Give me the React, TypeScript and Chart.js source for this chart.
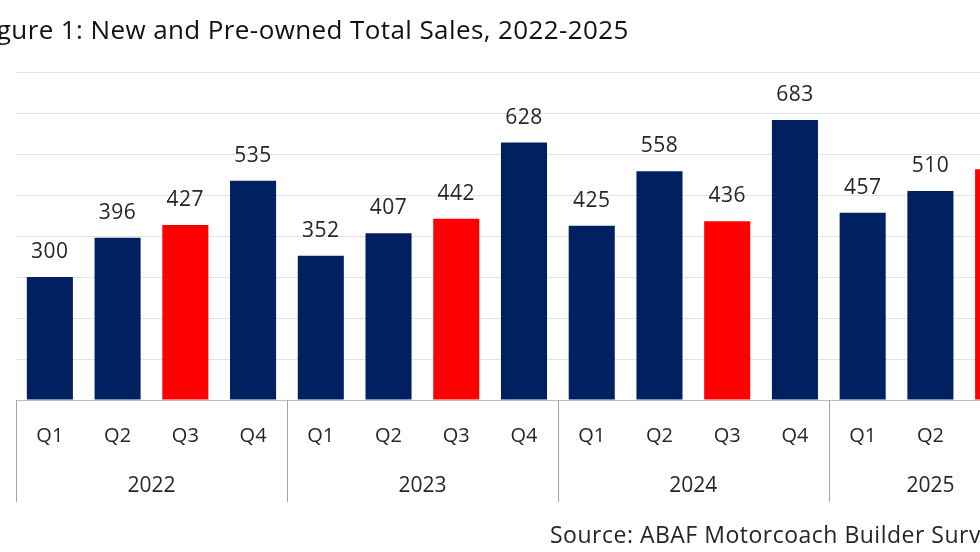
import React, { useEffect, useRef } from "react";
import { Chart, registerables } from "chart.js";

Chart.register(...registerables);

const quarters = ["Q1", "Q2", "Q3", "Q4", "Q1", "Q2", "Q3", "Q4", "Q1", "Q2", "Q3", "Q4", "Q1", "Q2", "Q3"];
const years = ["2022", "2023", "2024", "2025"];
const quartersPerYear = [4, 4, 4, 3];
const sales = [300, 396, 427, 535, 352, 407, 442, 628, 425, 558, 436, 683, 457, 510, 563];
const highlightQuarter = "Q3";
const titleText = "Figure 1: New and Pre-owned Total Sales, 2022-2025";
const sourceText = "Source: ABAF Motorcoach Builder Survey";

const FONT = "'Open Sans', sans-serif";
const NAVY = "#002060";
const RED = "#FF0000";
const TEXT = "#262626";
const OFFSET_X = 40;
const CANVAS_W = 1110;
const CANVAS_H = 552;

export default function App() {
  const ref = useRef<HTMLCanvasElement>(null);

  useEffect(() => {
    if (!ref.current) return;

    const overlay = {
      id: "overlay",
      afterDraw(chart: any) {
        const { ctx, chartArea, scales } = chart;
        const x = scales.x;
        const half = (x.getPixelForValue(1) - x.getPixelForValue(0)) / 2;
        const bottom = chartArea.bottom;
        ctx.save();

        // year group dividers and labels
        ctx.strokeStyle = "#a6a6a6";
        ctx.lineWidth = 1;
        ctx.fillStyle = TEXT;
        ctx.font = `21px ${FONT}`;
        ctx.textAlign = "center";
        ctx.textBaseline = "middle";
        let idx = 0;
        years.forEach((yr, i) => {
          const start = x.getPixelForValue(idx) - half;
          const end = x.getPixelForValue(idx + quartersPerYear[i] - 1) + half;
          ctx.beginPath();
          ctx.moveTo(Math.round(start) + 0.5, bottom);
          ctx.lineTo(Math.round(start) + 0.5, bottom + 102);
          ctx.stroke();
          if (i === years.length - 1) {
            ctx.beginPath();
            ctx.moveTo(Math.round(end) - 0.5, bottom);
            ctx.lineTo(Math.round(end) - 0.5, bottom + 102);
            ctx.stroke();
          }
          ctx.fillText(yr, (start + end) / 2, bottom + 86);
          idx += quartersPerYear[i];
        });

        // value labels
        ctx.font = `21px ${FONT}`;
        (ctx as any).letterSpacing = "0.5px";
        const meta = chart.getDatasetMeta(0);
        meta.data.forEach((bar: any, i: number) => {
          ctx.fillText(String(sales[i]), bar.x, bar.y - 25);
        });

        // title
        ctx.fillStyle = "#111111";
        ctx.textAlign = "left";
        ctx.textBaseline = "alphabetic";
        ctx.font = `26px ${FONT}`;
        (ctx as any).letterSpacing = "0.4px";
        ctx.fillText(titleText, OFFSET_X - 24, 39);

        // source
        ctx.fillStyle = TEXT;
        ctx.font = `23px ${FONT}`;
        (ctx as any).letterSpacing = "0.5px";
        ctx.fillText(sourceText, OFFSET_X + 550, 543);
        (ctx as any).letterSpacing = "0px";
        ctx.restore();
      },
    };

    const chart = new Chart(ref.current, {
      type: "bar",
      data: {
        labels: quarters,
        datasets: [
          {
            data: sales,
            backgroundColor: quarters.map((q) => (q === highlightQuarter ? RED : NAVY)),
            barPercentage: 0.68,
            categoryPercentage: 1,
          },
        ],
      },
      options: {
        responsive: false,
        animation: false,
        layout: {
          padding: { left: OFFSET_X + 16, right: CANVAS_W - (OFFSET_X + 1032), top: 72, bottom: 42 },
        },
        plugins: {
          legend: { display: false },
          tooltip: { enabled: false },
          title: { display: false },
        },
        scales: {
          x: {
            grid: { display: false, drawTicks: false },
            border: { display: true, color: "#bfbfbf", width: 1 },
            ticks: {
              color: TEXT,
              font: { family: FONT, size: 20 },
              padding: 24,
              maxRotation: 0,
              autoSkip: false,
            },
            afterFit: (scale: any) => {
              scale.height = 110;
            },
          },
          y: {
            min: 0,
            max: 800,
            ticks: { display: false, stepSize: 100 },
            grid: { color: "#e3e3e3", drawTicks: false },
            border: { display: false },
            afterFit: (scale: any) => {
              scale.width = 0;
            },
          },
        },
      },
      plugins: [overlay],
    });

    return () => chart.destroy();
  }, []);

  return (
    <div
      style={{
        position: "fixed",
        left: 0,
        top: 0,
        width: 980,
        height: 552,
        overflow: "hidden",
        background: "#ffffff",
      }}
    >
      <canvas
        ref={ref}
        width={CANVAS_W}
        height={CANVAS_H}
        style={{ position: "absolute", left: -OFFSET_X, top: 0, width: CANVAS_W, height: CANVAS_H }}
      />
    </div>
  );
}
